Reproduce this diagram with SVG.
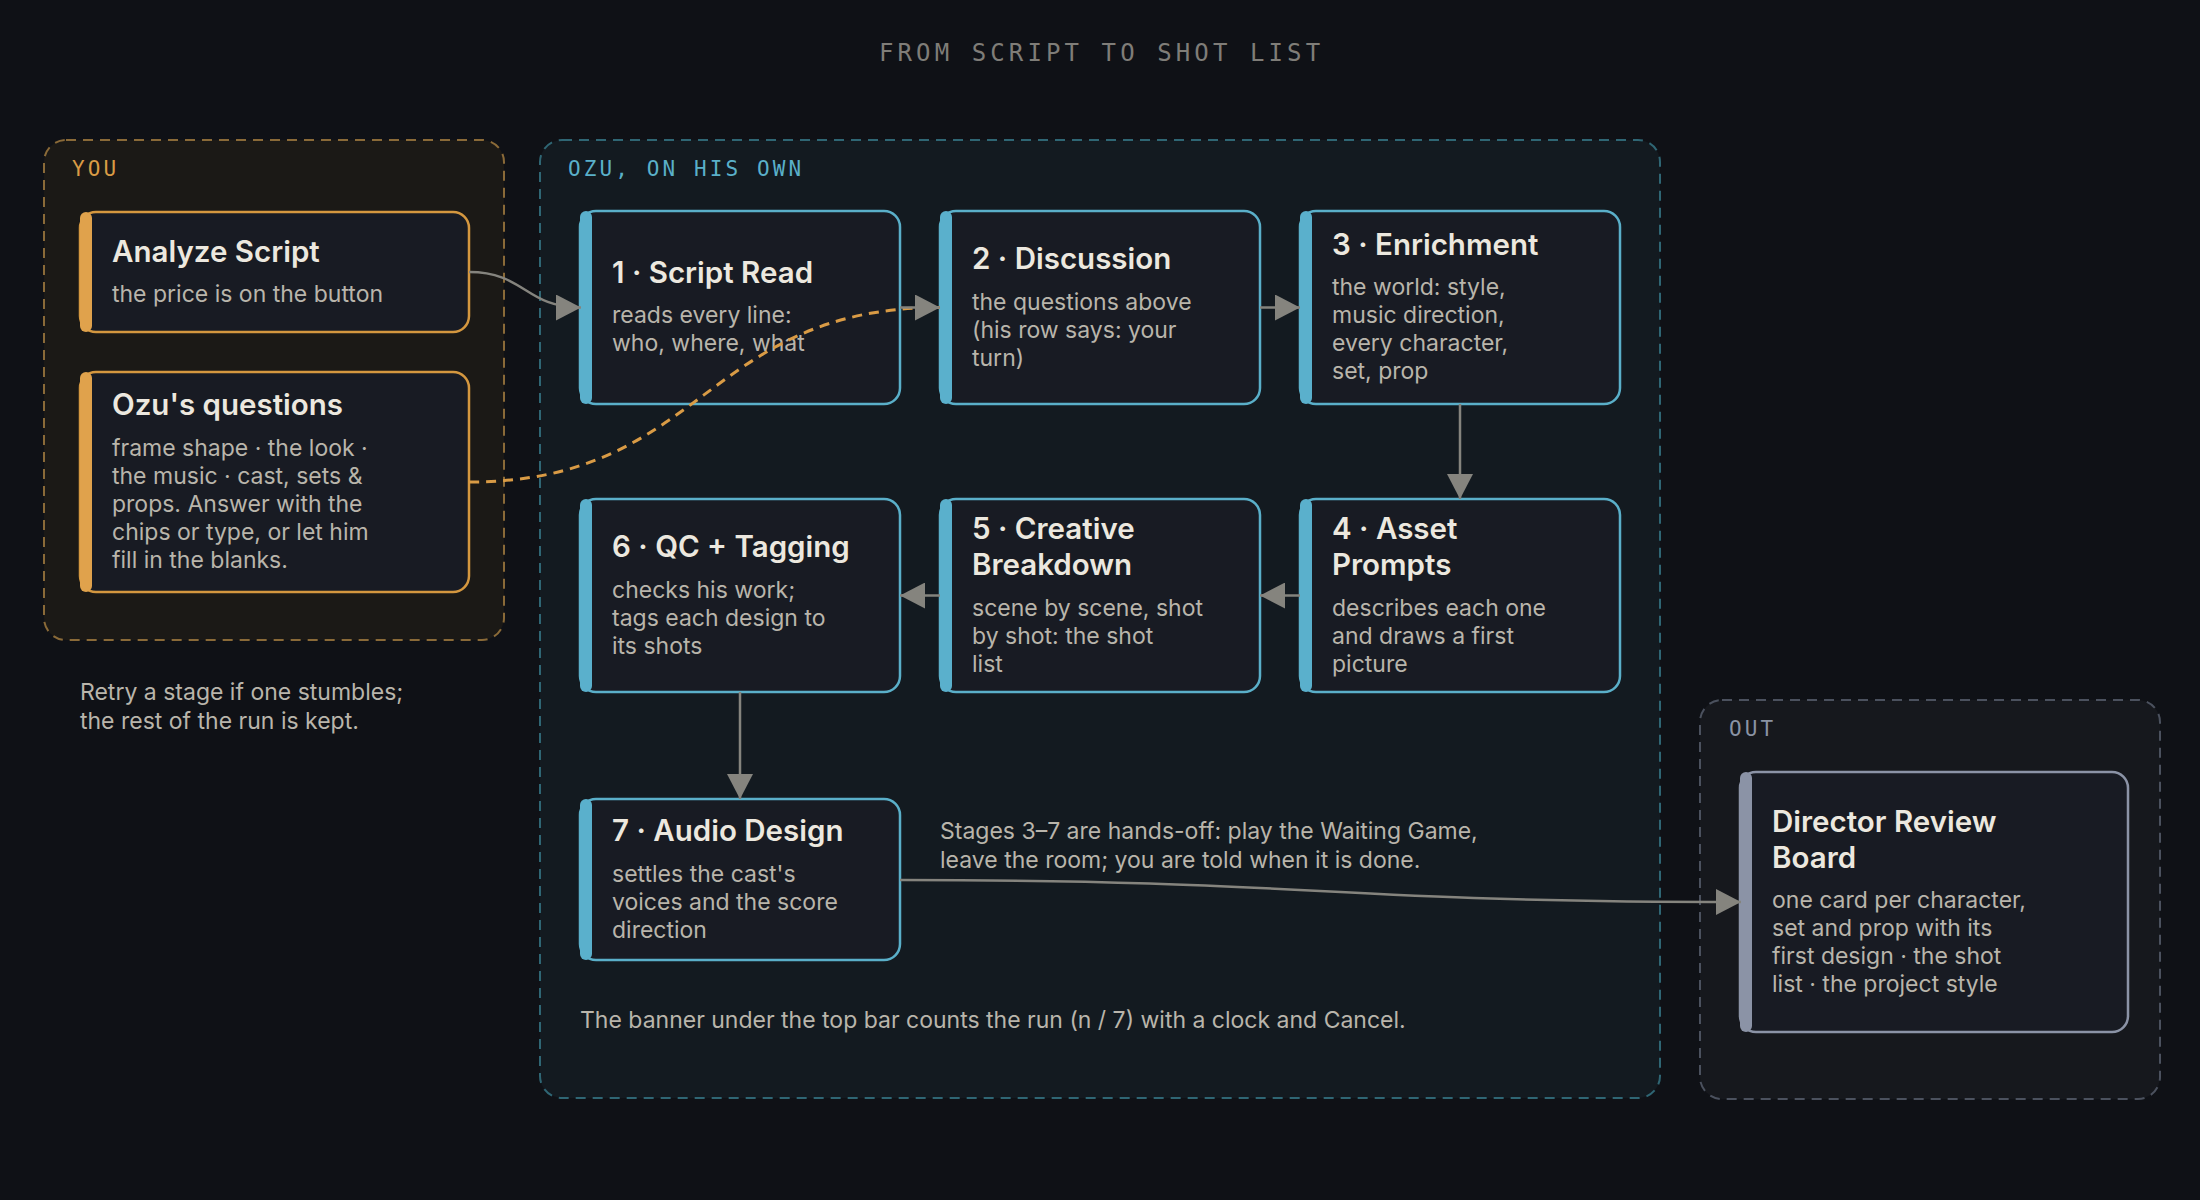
<svg xmlns="http://www.w3.org/2000/svg" width="2200" height="1200" viewBox="0 0 2200 1200">
  <defs>
    <style>
      .bg { fill: #0f1116; }
      .heading { font-family: "DejaVu Sans Mono", "Liberation Mono", monospace; font-size: 24px; letter-spacing: 4.1px; fill: #7f7d78; }
      .glabel { font-family: "DejaVu Sans Mono", "Liberation Mono", monospace; font-size: 21px; letter-spacing: 3.1px; }
      .card { fill: #181b23; stroke-width: 2.5; }
      .ttl { font-family: "Inter", "Noto Sans", "Liberation Sans", sans-serif; font-size: 29.5px; font-weight: 600; fill: #ece8df; }
      .body { font-family: "Inter", "Noto Sans", "Liberation Sans", sans-serif; font-size: 23px; fill: #b9b5ab; }
      .note { font-family: "Inter", "Noto Sans", "Liberation Sans", sans-serif; font-size: 23px; fill: #b9b5ab; }
      .conn { fill: none; stroke: #85847e; stroke-width: 2.5; }
      .dash { fill: none; stroke: #d99b45; stroke-width: 3; stroke-dasharray: 10 7; }
    </style>
    <marker id="arrow" markerUnits="userSpaceOnUse" markerWidth="26" markerHeight="26" viewBox="0 0 26 26" refX="25" refY="13" orient="auto">
      <path d="M0,0 L25,13 L0,26 Z" fill="#85847e"/>
    </marker>
  </defs>

  <rect class="bg" x="0" y="0" width="2200" height="1200"/>

  <text class="heading" x="879" y="61">FROM SCRIPT TO SHOT LIST</text>

  <!-- Groups -->
  <g id="group-you">
    <rect x="44" y="140" width="460" height="500" rx="22" fill="#1b1916" stroke="#8a6a38" stroke-width="2" stroke-dasharray="10 7"/>
    <text class="glabel" x="72" y="176" fill="#d99b45">YOU</text>
  </g>
  <g id="group-ozu">
    <rect x="540" y="140" width="1120" height="958" rx="22" fill="#131a20" stroke="#2f6674" stroke-width="2" stroke-dasharray="10 7"/>
    <text class="glabel" x="568" y="176" fill="#5ab0c9">OZU, ON HIS OWN</text>
  </g>
  <g id="group-out">
    <rect x="1700" y="700" width="460" height="399" rx="22" fill="#16181d" stroke="#4b515e" stroke-width="2" stroke-dasharray="10 7"/>
    <text class="glabel" x="1729" y="736" fill="#8a93a3">OUT</text>
  </g>

  <!-- YOU nodes -->
  <g id="node-analyze">
    <rect class="card" x="80" y="212" width="389" height="120" rx="16" stroke="#d4973f"/>
    <rect x="80" y="212" width="12" height="120" rx="6" fill="#e0a24c"/>
    <text class="ttl" x="112" y="262">Analyze Script</text>
    <text class="body" x="112" y="302">the price is on the button</text>
  </g>
  <g id="node-questions">
    <rect class="card" x="80" y="372" width="389" height="220" rx="16" stroke="#d4973f"/>
    <rect x="80" y="372" width="12" height="220" rx="6" fill="#e0a24c"/>
    <text class="ttl" x="112" y="415">Ozu's questions</text>
    <text class="body" x="112" y="456">frame shape · the look ·</text>
    <text class="body" x="112" y="484">the music · cast, sets &amp;</text>
    <text class="body" x="112" y="512">props. Answer with the</text>
    <text class="body" x="112" y="540">chips or type, or let him</text>
    <text class="body" x="112" y="568">fill in the blanks.</text>
  </g>

  <!-- OZU stages -->
  <g id="node-stage1">
    <rect class="card" x="580" y="211" width="320" height="193" rx="16" stroke="#5aafc9"/>
    <rect x="580" y="211" width="12" height="193" rx="6" fill="#5ab0cc"/>
    <text class="ttl" x="612" y="283">1 · Script Read</text>
    <text class="body" x="612" y="323">reads every line:</text>
    <text class="body" x="612" y="351">who, where, what</text>
  </g>
  <g id="node-stage2">
    <rect class="card" x="940" y="211" width="320" height="193" rx="16" stroke="#5aafc9"/>
    <rect x="940" y="211" width="12" height="193" rx="6" fill="#5ab0cc"/>
    <text class="ttl" x="972" y="269">2 · Discussion</text>
    <text class="body" x="972" y="310">the questions above</text>
    <text class="body" x="972" y="338">(his row says: your</text>
    <text class="body" x="972" y="366">turn)</text>
  </g>
  <g id="node-stage3">
    <rect class="card" x="1300" y="211" width="320" height="193" rx="16" stroke="#5aafc9"/>
    <rect x="1300" y="211" width="12" height="193" rx="6" fill="#5ab0cc"/>
    <text class="ttl" x="1332" y="255">3 · Enrichment</text>
    <text class="body" x="1332" y="295">the world: style,</text>
    <text class="body" x="1332" y="323">music direction,</text>
    <text class="body" x="1332" y="351">every character,</text>
    <text class="body" x="1332" y="379">set, prop</text>
  </g>
  <g id="node-stage4">
    <rect class="card" x="1300" y="499" width="320" height="193" rx="16" stroke="#5aafc9"/>
    <rect x="1300" y="499" width="12" height="193" rx="6" fill="#5ab0cc"/>
    <text class="ttl" x="1332" y="539">4 · Asset</text>
    <text class="ttl" x="1332" y="575">Prompts</text>
    <text class="body" x="1332" y="616">describes each one</text>
    <text class="body" x="1332" y="644">and draws a first</text>
    <text class="body" x="1332" y="672">picture</text>
  </g>
  <g id="node-stage5">
    <rect class="card" x="940" y="499" width="320" height="193" rx="16" stroke="#5aafc9"/>
    <rect x="940" y="499" width="12" height="193" rx="6" fill="#5ab0cc"/>
    <text class="ttl" x="972" y="539">5 · Creative</text>
    <text class="ttl" x="972" y="575">Breakdown</text>
    <text class="body" x="972" y="616">scene by scene, shot</text>
    <text class="body" x="972" y="644">by shot: the shot</text>
    <text class="body" x="972" y="672">list</text>
  </g>
  <g id="node-stage6">
    <rect class="card" x="580" y="499" width="320" height="193" rx="16" stroke="#5aafc9"/>
    <rect x="580" y="499" width="12" height="193" rx="6" fill="#5ab0cc"/>
    <text class="ttl" x="612" y="557">6 · QC + Tagging</text>
    <text class="body" x="612" y="598">checks his work;</text>
    <text class="body" x="612" y="626">tags each design to</text>
    <text class="body" x="612" y="654">its shots</text>
  </g>
  <g id="node-stage7">
    <rect class="card" x="580" y="799" width="320" height="161" rx="16" stroke="#5aafc9"/>
    <rect x="580" y="799" width="12" height="161" rx="6" fill="#5ab0cc"/>
    <text class="ttl" x="612" y="841">7 · Audio Design</text>
    <text class="body" x="612" y="882">settles the cast's</text>
    <text class="body" x="612" y="910">voices and the score</text>
    <text class="body" x="612" y="938">direction</text>
  </g>

  <!-- OUT node -->
  <g id="node-review">
    <rect class="card" x="1740" y="772" width="388" height="260" rx="16" stroke="#8b93a6"/>
    <rect x="1740" y="772" width="12" height="260" rx="6" fill="#8b93a6"/>
    <text class="ttl" x="1772" y="832">Director Review</text>
    <text class="ttl" x="1772" y="868">Board</text>
    <text class="body" x="1772" y="908">one card per character,</text>
    <text class="body" x="1772" y="936">set and prop with its</text>
    <text class="body" x="1772" y="964">first design · the shot</text>
    <text class="body" x="1772" y="992">list · the project style</text>
  </g>

  <!-- Notes -->
  <g id="notes">
    <text class="note" x="80" y="700">Retry a stage if one stumbles;</text>
    <text class="note" x="80" y="729">the rest of the run is kept.</text>
    <text class="note" x="940" y="839">Stages 3–7 are hands-off: play the Waiting Game,</text>
    <text class="note" x="940" y="868">leave the room; you are told when it is done.</text>
    <text class="note" x="580" y="1028">The banner under the top bar counts the run (n / 7) with a clock and Cancel.</text>
  </g>

  <!-- Connectors -->
  <g id="connectors">
    <path class="dash" d="M469,482 C704,482 704,307.5 940,307.5"/>
    <path class="conn" d="M469,272 C525,272 525,307.5 581,307.5" marker-end="url(#arrow)"/>
    <path class="conn" d="M900,307.5 L940,307.5" marker-end="url(#arrow)"/>
    <path class="conn" d="M1260,307.5 L1300,307.5" marker-end="url(#arrow)"/>
    <path class="conn" d="M1460,404 L1460,499" marker-end="url(#arrow)"/>
    <path class="conn" d="M1300,595.5 L1260,595.5" marker-end="url(#arrow)"/>
    <path class="conn" d="M940,595.5 L900,595.5" marker-end="url(#arrow)"/>
    <path class="conn" d="M740,692 L740,799" marker-end="url(#arrow)"/>
    <path class="conn" d="M900,880 C1320,880 1320,902 1741,902" marker-end="url(#arrow)"/>
  </g>
</svg>
